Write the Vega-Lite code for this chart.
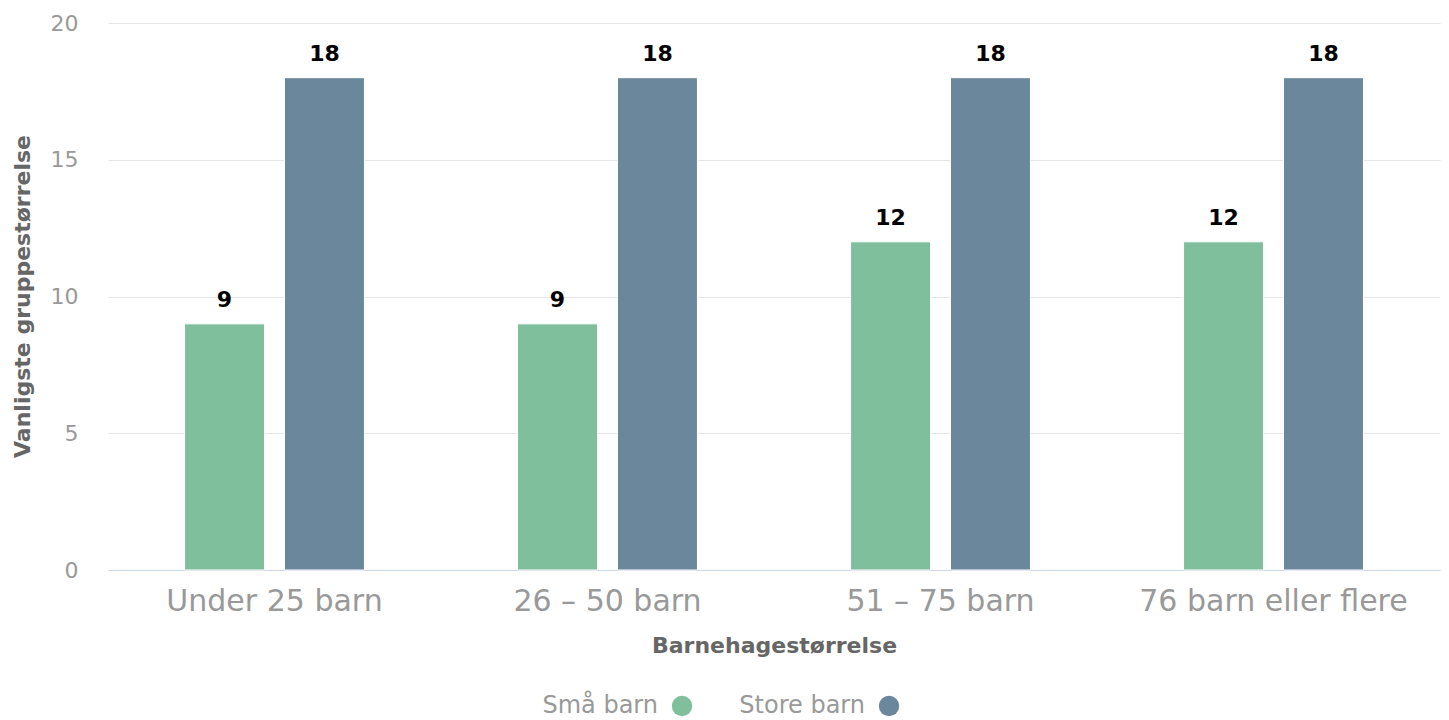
{
  "$schema": "https://vega.github.io/schema/vega-lite/v6.json",
  "width": 1332,
  "height": 547,
  "autosize": {"type": "none"},
  "padding": {"left": 108, "top": 23, "right": 9, "bottom": 150},
  "config": {
    "view": {"stroke": null},
    "font": "DejaVu Sans"
  },
  "data": {
    "values": [
      {"size": "Under 25 barn", "group": "Små barn", "value": 9},
      {"size": "Under 25 barn", "group": "Store barn", "value": 18},
      {"size": "26 – 50 barn", "group": "Små barn", "value": 9},
      {"size": "26 – 50 barn", "group": "Store barn", "value": 18},
      {"size": "51 – 75 barn", "group": "Små barn", "value": 12},
      {"size": "51 – 75 barn", "group": "Store barn", "value": 18},
      {"size": "76 barn eller flere", "group": "Små barn", "value": 12},
      {"size": "76 barn eller flere", "group": "Store barn", "value": 18}
    ]
  },
  "encoding": {
    "x": {
      "field": "size",
      "type": "nominal",
      "sort": ["Under 25 barn", "26 – 50 barn", "51 – 75 barn", "76 barn eller flere"],
      "scale": {"paddingInner": 0, "paddingOuter": 0},
      "axis": {
        "title": "Barnehagestørrelse",
        "labelAngle": 0,
        "labelFontSize": 30,
        "labelColor": "#999999",
        "labelPadding": 16,
        "labelLimit": 0,
        "ticks": false,
        "domainColor": "#ccd6eb",
        "domainWidth": 1,
        "grid": false,
        "titleFontSize": 22,
        "titleFontWeight": "bold",
        "titleColor": "#666666",
        "titleY": 82,
        "titleBaseline": "alphabetic"
      }
    },
    "xOffset": {
      "field": "group",
      "type": "nominal",
      "sort": ["Små barn", "Store barn"],
      "scale": {"paddingInner": 0.2, "paddingOuter": 0.766}
    },
    "y": {
      "field": "value",
      "type": "quantitative",
      "scale": {"domain": [0, 20], "nice": false},
      "axis": {
        "title": "Vanligste gruppestørrelse",
        "values": [0, 5, 10, 15, 20],
        "domain": false,
        "ticks": false,
        "gridColor": "#e6e6e6",
        "gridWidth": 1,
        "labelFontSize": 22,
        "labelColor": "#999999",
        "labelPadding": 30,
        "titleFontSize": 22,
        "titleFontWeight": "bold",
        "titleColor": "#666666",
        "titleX": -86,
        "titleY": 273,
        "titleAlign": "center",
        "titleBaseline": "middle"
      }
    }
  },
  "layer": [
    {
      "mark": {"type": "bar", "stroke": "white", "strokeWidth": 1},
      "encoding": {
        "color": {
          "field": "group",
          "type": "nominal",
          "sort": ["Små barn", "Store barn"],
          "scale": {"domain": ["Små barn", "Store barn"], "range": ["#7fbf9b", "#6b879c"]},
          "legend": {
            "title": null,
            "orient": "none",
            "direction": "horizontal",
            "legendX": 562,
            "legendY": 671,
            "symbolType": "circle",
            "symbolSize": 415,
            "symbolStrokeWidth": 0,
            "labelFontSize": 24,
            "labelColor": "#999999",
            "labelAlign": "right",
            "labelOffset": -36,
            "columnPadding": 46
          }
        }
      }
    },
    {
      "mark": {"type": "text", "baseline": "alphabetic", "dy": -17, "fontWeight": "bold", "fontSize": 22, "color": "black"},
      "encoding": {
        "text": {"field": "value", "type": "quantitative"}
      }
    }
  ]
}
